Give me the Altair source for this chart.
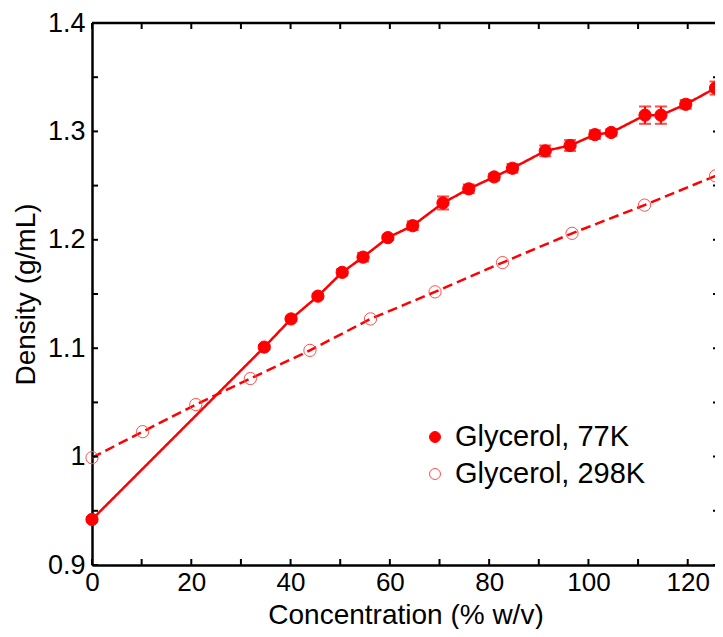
import altair as alt
import pandas as pd

# ---- data ----
series_names = ["Glycerol, 77K", "Glycerol, 298K"]

x77 = [0, 34.7, 40.1, 45.5, 50.4, 54.6, 59.6, 64.6, 70.7, 75.9, 81.0, 84.7,
       91.3, 96.3, 101.3, 104.6, 111.4, 114.6, 119.6, 125.6]
y77 = [0.942, 1.101, 1.127, 1.148, 1.170, 1.184, 1.202, 1.213, 1.234, 1.247,
       1.258, 1.266, 1.282, 1.287, 1.297, 1.299, 1.315, 1.315, 1.325, 1.340]
e77 = [0.002, 0.002, 0.002, 0.002, 0.003, 0.004, 0.002, 0.004, 0.006, 0.004,
       0.003, 0.004, 0.005, 0.005, 0.004, 0.003, 0.008, 0.008, 0.004, 0.006]

x298 = [0, 10.2, 20.9, 31.9, 43.9, 56.1, 69.1, 82.7, 96.7, 111.3, 125.6]
y298 = [0.999, 1.023, 1.048, 1.072, 1.098, 1.127, 1.152, 1.179, 1.206, 1.232, 1.259]

x_label_values = [0, 20, 40, 60, 80, 100, 120]
x_tick_values = [0, 10, 20, 30, 40, 50, 60, 70, 80, 90, 100, 110, 120]
y_label_values = [0.9, 1.0, 1.1, 1.2, 1.3, 1.4]
y_tick_values = [0.9, 0.95, 1.0, 1.05, 1.1, 1.15, 1.2, 1.25, 1.3, 1.35, 1.4]

x_title = "Concentration (% w/v)"
y_title = "Density (g/mL)"

# ---- layout / style ----
W, H = 627, 542
PAD = {"left": 84, "top": 15, "right": -4, "bottom": 64}
RED = "#ff0000"
FONT = "Liberation Sans"
TICK = 6

df = pd.DataFrame(
    {"series": [series_names[0]] * len(x77) + [series_names[1]] * len(x298),
     "x": x77 + x298, "y": y77 + y298}
)
df77 = pd.DataFrame({"x": x77, "y": y77, "e": e77})
df77["lo"] = df77["y"] - df77["e"]
df77["hi"] = df77["y"] + df77["e"]
dfx = pd.DataFrame({"t": x_tick_values})
dfy = pd.DataFrame({"t": y_tick_values})
dfone = pd.DataFrame({"k": [0]})
dfleg = pd.DataFrame({"series": series_names})

xs = alt.Scale(domain=[0, 126.3], nice=False, zero=False)
ys = alt.Scale(domain=[0.9, 1.4], nice=False, zero=False)

x_axis = alt.Axis(values=x_label_values, ticks=False, domain=True, domainColor="black",
                  domainWidth=2.5, labelFontSize=26, labelFont=FONT, labelColor="black",
                  labelPadding=4, labelFlush=False, grid=False, title=x_title,
                  titleFontSize=28, titleFont=FONT, titleFontWeight="normal",
                  titleColor="black", titlePadding=6)
y_axis = alt.Axis(values=y_label_values, ticks=False, domain=True, domainColor="black",
                  domainWidth=2.5, labelFontSize=27, labelFont=FONT, labelColor="black",
                  labelPadding=7, labelFlush=False, grid=False,
                  labelExpr="datum.value == 1 ? '1' : format(datum.value, '.1f')",
                  title=y_title, titleFontSize=28, titleFont=FONT,
                  titleFontWeight="normal", titleColor="black", titlePadding=7)


def X(field):
    return alt.X(field, type="quantitative", scale=xs, axis=x_axis)


def Y(field):
    return alt.Y(field, type="quantitative", scale=ys, axis=y_axis)


fill_scale = alt.Scale(domain=series_names, range=[RED, "transparent"])
stroke_scale = alt.Scale(domain=series_names, range=[RED, "#ff4d4d"])

lines = alt.Chart(df).mark_line(strokeWidth=2.5, color=RED).encode(
    x=X("x"), y=Y("y"),
    detail="series:N",
    strokeDash=alt.StrokeDash("series:N", scale=alt.Scale(domain=series_names,
                              range=[[1, 0], [10, 5]]), legend=None),
    order="x:Q",
)

err = alt.Chart(df77).mark_rule(color=RED, strokeWidth=2).encode(
    x=X("x"), y=Y("lo"), y2="hi:Q")
cap_lo = alt.Chart(df77).mark_tick(color=RED, thickness=2, size=12, orient="horizontal").encode(
    x=X("x"), y=Y("lo"))
cap_hi = alt.Chart(df77).mark_tick(color=RED, thickness=2, size=12, orient="horizontal").encode(
    x=X("x"), y=Y("hi"))

points = alt.Chart(df).mark_point(shape="circle", size=150, strokeWidth=1, opacity=1).encode(
    x=X("x"), y=Y("y"),
    fill=alt.Fill("series:N", scale=fill_scale, legend=None),
    stroke=alt.Stroke("series:N", scale=stroke_scale, legend=None),
)

# inward ticks on all four sides + top frame line
tx_bottom = alt.Chart(dfx).mark_rule(color="black", strokeWidth=2).encode(
    x=X("t"), y=alt.value(H), y2=alt.value(H - TICK))
tx_top = alt.Chart(dfx).mark_rule(color="black", strokeWidth=2).encode(
    x=X("t"), y=alt.value(0), y2=alt.value(TICK))
ty_left = alt.Chart(dfy).mark_rule(color="black", strokeWidth=2).encode(
    y=Y("t"), x=alt.value(0), x2=alt.value(TICK))
ty_right = alt.Chart(dfy).mark_rule(color="black", strokeWidth=2).encode(
    y=Y("t"), x=alt.value(W), x2=alt.value(W - TICK))
top_frame = alt.Chart(dfone).mark_rule(color="black", strokeWidth=2.5).encode(
    x=alt.value(0), x2=alt.value(W + 10), y=alt.value(0))

# legend (placed inside the plot, lower right)
LEG_X, LEG_Y0, LEG_DY = 343, 414, 37
legend_layers = []
for i, name in enumerate(series_names):
    sub = dfleg[dfleg["series"] == name]
    sym = alt.Chart(sub).mark_point(shape="circle", size=120, strokeWidth=1, opacity=1).encode(
        x=alt.value(LEG_X), y=alt.value(LEG_Y0 + i * LEG_DY),
        fill=alt.Fill("series:N", scale=fill_scale, legend=None),
        stroke=alt.Stroke("series:N", scale=stroke_scale, legend=None),
    )
    txt = alt.Chart(sub).mark_text(align="left", baseline="middle", font=FONT, fontSize=29,
                                   color="black").encode(
        x=alt.value(LEG_X + 20), y=alt.value(LEG_Y0 + i * LEG_DY), text="series:N")
    legend_layers += [sym, txt]

chart = alt.layer(
    lines, err, cap_lo, cap_hi, points, tx_bottom, tx_top, ty_left, ty_right, top_frame,
    *legend_layers
).properties(
    width=W, height=H,
    autosize=alt.AutoSizeParams(type="none"),
    padding=PAD,
).configure_view(stroke=None).configure(background="white")

chart.save("out.html", embed_options={"renderer": "svg", "actions": False})
